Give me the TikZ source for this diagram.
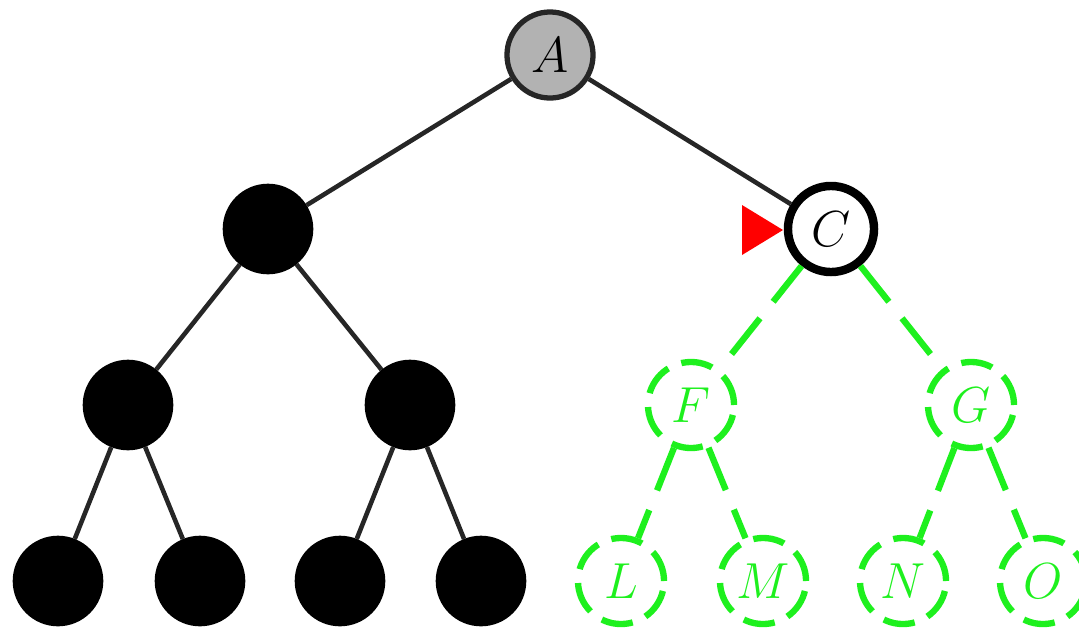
\documentclass[tikz,border=0pt]{standalone}
\usetikzlibrary{shapes.geometric}
\definecolor{lgreen}{RGB}{30,240,30}
\begin{document}
\begin{tikzpicture}[x=0.01cm,y=-0.01cm,
  every node/.style={circle,inner sep=0pt,minimum size=0.86cm,font=\fontsize{14}{16}\selectfont},
  blk/.style={fill=black,draw=black,line width=1.3pt},
  anode/.style={fill=black!30,draw=black!85,line width=1.5pt},
  cnode/.style={fill=white,draw=black,line width=2.4pt},
  gnode/.style={draw=lgreen,text=lgreen,line width=1.8pt,dash pattern=on 9pt off 4pt},
  bedge/.style={draw=black!85,line width=1.3pt},
  gedge/.style={draw=lgreen,line width=1.8pt,dash pattern=on 13pt off 6pt}]
\useasboundingbox (0,0) rectangle (1079,630);
\node[anode] (A) at (550,55) {$A$};
\node[blk] (B) at (268,229) {};
\node[cnode] (C) at (831,229) {$C$};
\node[blk] (D) at (128,405) {};
\node[blk] (E) at (410,405) {};
\node[gnode] (F) at (691,405) {$F$};
\node[gnode] (G) at (971,405) {$G$};
\node[blk] (H) at (58,581) {};
\node[blk] (I) at (200,581) {};
\node[blk] (J) at (340,581) {};
\node[blk] (K) at (481,581) {};
\node[gnode] (L) at (621,581) {$L$};
\node[gnode] (M) at (763,581) {$M$};
\node[gnode] (N) at (903,581) {$N$};
\node[gnode] (O) at (1043,581) {$O$};
\draw[bedge] (A) -- (B);
\draw[bedge] (A) -- (C);
\draw[bedge] (B) -- (D);
\draw[bedge] (B) -- (E);
\draw[bedge] (D) -- (H);
\draw[bedge] (D) -- (I);
\draw[bedge] (E) -- (J);
\draw[bedge] (E) -- (K);
\draw[gedge] (C) -- (F);
\draw[gedge] (C) -- (G);
\draw[gedge] (F) -- (L);
\draw[gedge] (F) -- (M);
\draw[gedge] (G) -- (N);
\draw[gedge] (G) -- (O);
\coordinate (t1) at (742,205);
\coordinate (t2) at (742,255);
\coordinate (t3) at (783,230);
\fill[red] (t1) -- (t3) -- (t2) -- cycle;
\end{tikzpicture}
\end{document}
